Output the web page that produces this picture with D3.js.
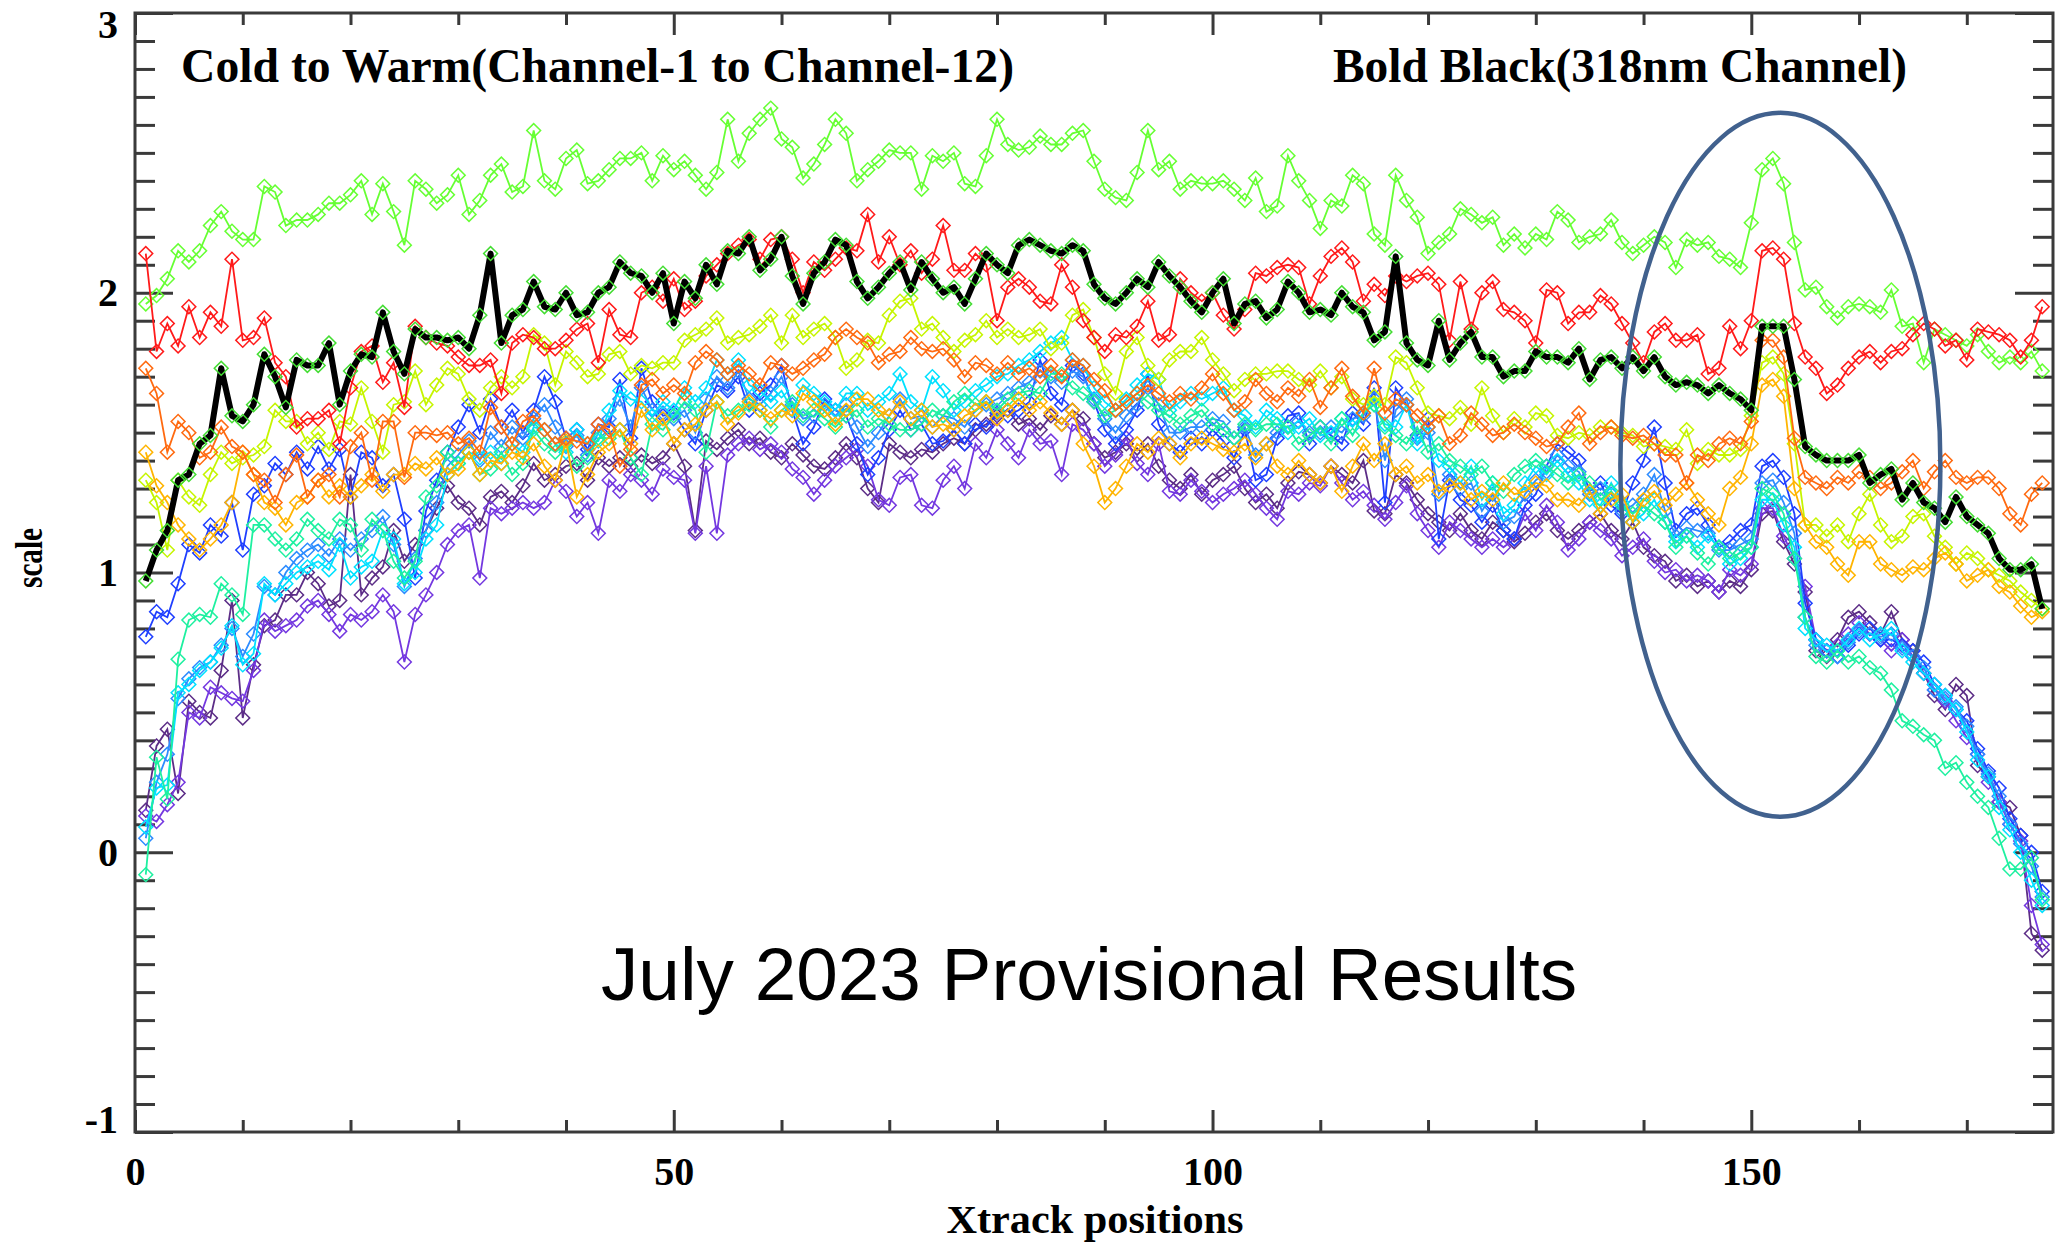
<!DOCTYPE html>
<meta charset="utf-8">
<style>
  body { margin: 0; background: #fff; }
  .tick line { stroke: #3a3a3a; stroke-width: 3; }
  .tick text { font-family: "Liberation Serif", "Times New Roman", serif; font-weight: bold; font-size: 40px; fill: #000; }
  .frame { fill: none; stroke: #3a3a3a; stroke-width: 3; }
  .series { fill: none; stroke-width: 1.8; }
  .marker { fill: none; stroke-width: 1.5; }
  .bold318 { fill: none; stroke: #000; stroke-width: 6; stroke-linejoin: round; }
  .lab { font-family: "Liberation Serif", "Times New Roman", serif; font-weight: bold; fill: #000; }
  .note { font-family: "Liberation Sans", Arial, sans-serif; fill: #000; }
</style>

<svg width="2057" height="1242"></svg>
<script src="https://d3js.org/d3.v7.min.js"></script>

<script>
// Xtrack positions 1..177
var xtrack = d3.range(1, 178);

// Channel values (scale), cold (ch1) to warm (ch12)
var ch1 = [0.15,0.38,0.44,0.21,0.54,0.50,0.48,0.65,0.90,0.48,0.67,0.81,0.83,0.92,0.92,1.00,0.96,0.88,0.90,1.35,0.92,0.98,1.02,1.15,1.04,1.10,1.15,1.23,1.31,1.25,1.23,1.17,1.27,1.29,1.25,1.31,
  1.39,1.33,1.35,1.38,1.39,1.33,1.41,1.38,1.41,1.38,1.42,1.39,1.41,1.46,1.38,1.15,1.47,1.44,1.48,1.51,1.46,1.48,1.43,1.41,1.46,1.42,1.38,1.37,1.41,1.46,1.41,1.30,1.25,1.46,1.43,
  1.41,1.44,1.43,1.46,1.48,1.46,1.51,1.53,1.56,1.58,1.53,1.55,1.51,1.56,1.53,1.58,1.55,1.46,1.41,1.43,1.46,1.42,1.46,1.38,1.33,1.30,1.35,1.28,1.33,1.35,1.38,1.30,1.25,1.28,1.23,
  1.32,1.36,1.35,1.32,1.38,1.35,1.32,1.40,1.22,1.21,1.35,1.32,1.26,1.21,1.18,1.15,1.21,1.15,1.12,1.18,1.15,1.11,1.14,1.18,1.21,1.15,1.12,1.15,1.18,1.21,1.15,1.12,1.18,1.09,1.06,1.04,
  0.97,0.99,0.95,0.97,0.93,0.97,0.95,1.01,1.21,1.22,1.11,1.03,0.93,0.72,0.70,0.76,0.84,0.86,0.82,0.78,0.86,0.76,0.72,0.64,0.56,0.51,0.60,0.56,0.31,0.27,0.18,0.16,0.06,-0.29,-0.35];
var ch2 = [0.13,0.11,0.17,0.25,0.50,0.48,0.59,0.57,0.55,0.54,0.65,0.83,0.79,0.81,0.83,0.88,0.90,0.85,0.79,0.85,0.83,0.86,0.92,0.86,0.68,0.85,0.92,1.00,1.10,1.15,1.17,0.98,1.23,1.21,1.23,1.25,
  1.23,1.25,1.33,1.29,1.20,1.25,1.14,1.33,1.29,1.35,1.33,1.28,1.37,1.34,1.33,1.14,1.38,1.14,1.42,1.46,1.48,1.44,1.46,1.43,1.37,1.34,1.28,1.33,1.38,1.41,1.44,1.38,1.26,1.24,1.34,
  1.35,1.24,1.23,1.33,1.38,1.30,1.46,1.41,1.51,1.46,1.41,1.51,1.46,1.47,1.35,1.53,1.51,1.46,1.38,1.42,1.48,1.39,1.35,1.46,1.29,1.28,1.33,1.29,1.25,1.28,1.30,1.33,1.28,1.23,1.19,
  1.29,1.28,1.32,1.31,1.38,1.32,1.26,1.29,1.24,1.19,1.25,1.31,1.21,1.15,1.09,1.18,1.15,1.12,1.09,1.12,1.09,1.12,1.21,1.15,1.24,1.18,1.08,1.12,1.18,1.15,1.12,1.06,1.09,1.12,1.04,1.00,
  1.01,0.97,0.99,0.97,0.93,1.01,0.99,1.03,1.23,1.23,1.13,1.05,0.95,0.76,0.72,0.74,0.78,0.82,0.78,0.76,0.72,0.76,0.70,0.64,0.58,0.54,0.47,0.41,0.35,0.25,0.18,0.10,0.04,-0.19,-0.33];
var ch3 = [0.77,0.86,0.84,0.96,1.10,1.07,1.17,1.13,1.25,1.08,1.28,1.31,1.39,1.35,1.43,1.37,1.45,1.37,1.44,1.27,1.43,1.41,1.31,1.35,1.19,0.98,1.22,1.33,1.43,1.52,1.60,1.50,1.62,1.52,1.58,1.50,
  1.58,1.70,1.61,1.48,1.51,1.44,1.53,1.52,1.69,1.48,1.73,1.61,1.56,1.57,1.51,1.46,1.58,1.67,1.65,1.70,1.58,1.64,1.67,1.74,1.58,1.46,1.52,1.62,1.58,1.56,1.46,1.35,1.41,1.51,1.58,
  1.51,1.53,1.46,1.47,1.51,1.46,1.53,1.52,1.57,1.56,1.58,1.61,1.76,1.64,1.60,1.74,1.71,1.61,1.51,1.46,1.51,1.58,1.71,1.53,1.46,1.43,1.48,1.46,1.51,1.47,1.41,1.51,1.33,1.35,1.48,
  1.56,1.57,1.46,1.52,1.49,1.46,1.57,1.53,1.66,1.25,1.66,1.60,1.49,1.55,1.12,1.33,1.26,1.24,1.18,1.24,1.15,1.12,1.24,1.28,1.38,1.46,1.43,1.40,1.29,1.32,1.24,1.21,1.32,1.40,1.52,1.32,
  1.15,1.21,1.23,1.17,1.09,1.11,1.15,1.17,1.38,1.40,1.34,1.21,0.89,0.76,0.72,0.70,0.74,0.78,0.80,0.76,0.76,0.74,0.72,0.68,0.60,0.56,0.51,0.47,0.37,0.29,0.23,0.12,0.06,0.00,-0.14];
var ch4 = [0.05,0.25,0.35,0.55,0.62,0.66,0.68,0.74,0.80,0.70,0.78,0.95,0.92,1.00,1.05,1.08,1.10,1.06,1.12,1.08,1.12,1.15,1.20,1.10,0.95,1.05,1.15,1.25,1.38,1.42,1.47,1.40,1.50,1.45,1.52,1.48,
  1.55,1.60,1.52,1.45,1.49,1.42,1.50,1.55,1.62,1.52,1.66,1.58,1.57,1.55,1.58,1.50,1.62,1.70,1.66,1.72,1.62,1.60,1.64,1.70,1.60,1.55,1.56,1.60,1.56,1.60,1.52,1.45,1.50,1.56,1.62,
  1.55,1.56,1.52,1.56,1.55,1.52,1.58,1.60,1.62,1.64,1.66,1.68,1.72,1.70,1.68,1.72,1.70,1.62,1.55,1.50,1.56,1.60,1.66,1.60,1.50,1.50,1.52,1.52,1.55,1.54,1.48,1.52,1.42,1.46,1.50,
  1.52,1.54,1.50,1.50,1.52,1.50,1.55,1.56,1.62,1.40,1.58,1.62,1.48,1.50,1.28,1.35,1.30,1.32,1.22,1.28,1.18,1.20,1.28,1.33,1.36,1.42,1.38,1.36,1.28,1.30,1.28,1.22,1.24,1.28,1.35,1.22,
  1.13,1.16,1.15,1.14,1.08,1.08,1.10,1.12,1.32,1.33,1.25,1.14,0.84,0.74,0.72,0.70,0.75,0.79,0.78,0.77,0.78,0.73,0.70,0.66,0.58,0.55,0.52,0.45,0.35,0.28,0.20,0.10,0.03,-0.05,-0.16];
var ch5 = [0.09,0.23,0.24,0.57,0.60,0.65,0.68,0.73,0.81,0.67,0.71,0.96,0.92,0.96,1.00,1.02,1.04,1.01,1.10,0.98,1.02,1.04,1.15,1.12,0.96,1.00,1.12,1.17,1.35,1.39,1.43,1.41,1.43,1.39,1.46,1.43,
  1.52,1.51,1.46,1.43,1.51,1.46,1.47,1.58,1.65,1.62,1.61,1.56,1.61,1.58,1.66,1.61,1.66,1.76,1.71,1.76,1.67,1.65,1.61,1.65,1.58,1.67,1.64,1.61,1.58,1.64,1.64,1.58,1.61,1.64,1.71,
  1.61,1.58,1.70,1.65,1.58,1.61,1.65,1.67,1.70,1.71,1.74,1.76,1.79,1.82,1.84,1.76,1.74,1.66,1.61,1.58,1.62,1.67,1.71,1.69,1.58,1.61,1.64,1.62,1.64,1.66,1.58,1.56,1.52,1.58,1.55,
  1.50,1.52,1.55,1.49,1.50,1.55,1.52,1.57,1.60,1.53,1.52,1.60,1.46,1.52,1.40,1.38,1.32,1.38,1.26,1.32,1.21,1.24,1.32,1.38,1.35,1.40,1.35,1.32,1.26,1.24,1.32,1.25,1.18,1.21,1.26,1.18,
  1.11,1.13,1.09,1.13,1.09,1.03,1.05,1.09,1.26,1.26,1.17,1.09,0.80,0.76,0.74,0.72,0.76,0.80,0.76,0.78,0.80,0.72,0.68,0.64,0.60,0.56,0.51,0.43,0.33,0.27,0.16,0.08,0.00,-0.10,-0.19];
var ch6 = [-0.08,0.34,0.19,0.69,0.83,0.85,0.84,0.96,0.92,0.85,1.17,1.17,1.12,1.08,1.12,1.19,1.15,1.12,1.19,1.17,1.08,1.19,1.15,1.04,0.98,1.04,1.27,1.31,1.43,1.39,1.43,1.35,1.37,1.43,1.35,1.39,
  1.51,1.46,1.43,1.46,1.38,1.41,1.48,1.48,1.51,1.41,1.35,1.53,1.51,1.56,1.61,1.58,1.43,1.61,1.56,1.58,1.60,1.58,1.52,1.58,1.61,1.56,1.58,1.55,1.52,1.56,1.58,1.52,1.55,1.53,1.51,
  1.51,1.53,1.58,1.56,1.61,1.64,1.60,1.61,1.58,1.62,1.64,1.65,1.64,1.71,1.71,1.66,1.64,1.61,1.56,1.58,1.61,1.64,1.61,1.58,1.56,1.53,1.56,1.58,1.53,1.51,1.48,1.53,1.51,1.53,1.53,
  1.52,1.46,1.49,1.52,1.46,1.55,1.49,1.57,1.60,1.52,1.49,1.46,1.52,1.43,1.46,1.40,1.38,1.35,1.38,1.32,1.29,1.35,1.38,1.40,1.38,1.35,1.32,1.35,1.32,1.26,1.29,1.24,1.21,1.24,1.21,1.18,
  1.09,1.13,1.07,1.03,1.09,1.05,1.07,1.09,1.30,1.28,1.21,1.05,0.84,0.70,0.68,0.72,0.68,0.70,0.66,0.64,0.58,0.47,0.45,0.42,0.40,0.30,0.32,0.25,0.20,0.16,0.05,-0.06,-0.06,-0.02,-0.17];
// ch7 is the 318nm channel, drawn bold black
var ch7 = [0.97,1.08,1.15,1.33,1.35,1.46,1.49,1.73,1.56,1.54,1.60,1.78,1.70,1.59,1.76,1.74,1.74,1.82,1.60,1.72,1.78,1.77,1.93,1.79,1.71,1.87,1.84,1.84,1.83,1.84,1.80,1.92,2.14,1.82,1.92,1.94,
  2.04,1.95,1.94,2.00,1.92,1.93,2.00,2.02,2.11,2.07,2.06,2.00,2.07,1.89,2.04,1.98,2.10,2.03,2.15,2.14,2.20,2.08,2.12,2.20,2.06,1.96,2.07,2.11,2.19,2.17,2.04,1.98,2.02,2.07,2.11,
  2.01,2.11,2.05,2.00,2.02,1.96,2.05,2.14,2.10,2.07,2.17,2.19,2.17,2.15,2.14,2.17,2.15,2.03,1.98,1.96,2.00,2.05,2.02,2.11,2.06,2.02,1.97,1.93,2.00,2.05,1.89,1.96,1.97,1.91,1.94,
  2.04,2.00,1.93,1.94,1.92,2.00,1.95,1.93,1.83,1.86,2.13,1.82,1.76,1.74,1.90,1.76,1.82,1.86,1.77,1.77,1.70,1.72,1.72,1.79,1.77,1.77,1.75,1.80,1.69,1.76,1.77,1.73,1.77,1.72,1.77,1.70,
  1.67,1.68,1.67,1.64,1.67,1.64,1.62,1.58,1.88,1.88,1.88,1.69,1.45,1.42,1.40,1.40,1.40,1.42,1.32,1.35,1.37,1.26,1.32,1.25,1.23,1.18,1.27,1.20,1.17,1.14,1.05,1.01,1.01,1.03,0.87];
var ch8 = [1.96,1.99,2.05,2.15,2.11,2.15,2.24,2.29,2.22,2.19,2.19,2.38,2.36,2.24,2.26,2.26,2.28,2.32,2.32,2.35,2.40,2.28,2.39,2.29,2.17,2.40,2.37,2.32,2.35,2.42,2.28,2.33,2.42,2.46,2.36,2.38,
  2.58,2.40,2.37,2.48,2.51,2.39,2.40,2.44,2.48,2.48,2.50,2.40,2.49,2.44,2.47,2.42,2.37,2.43,2.62,2.47,2.57,2.62,2.66,2.55,2.52,2.41,2.46,2.53,2.62,2.57,2.40,2.44,2.47,2.51,2.50,
  2.50,2.37,2.49,2.47,2.50,2.39,2.38,2.49,2.62,2.53,2.51,2.52,2.56,2.53,2.53,2.57,2.58,2.47,2.37,2.34,2.33,2.43,2.58,2.44,2.47,2.37,2.40,2.39,2.39,2.40,2.37,2.33,2.41,2.29,2.31,
  2.49,2.40,2.33,2.23,2.33,2.31,2.42,2.39,2.21,2.17,2.42,2.33,2.27,2.14,2.18,2.21,2.30,2.28,2.25,2.27,2.17,2.21,2.16,2.21,2.19,2.29,2.26,2.18,2.20,2.21,2.26,2.18,2.14,2.17,2.20,2.18,
  2.09,2.19,2.17,2.18,2.13,2.12,2.09,2.25,2.44,2.48,2.39,2.18,2.01,2.02,1.95,1.91,1.95,1.96,1.95,1.93,2.01,1.88,1.89,1.75,1.87,1.85,1.83,1.81,1.85,1.79,1.75,1.77,1.75,1.79,1.72];
var ch9 = [1.33,1.25,1.08,1.33,1.27,1.24,1.35,1.43,1.39,1.41,1.42,1.45,1.58,1.54,1.54,1.46,1.50,1.44,1.54,1.53,1.66,1.54,1.43,1.60,1.61,1.72,1.60,1.67,1.73,1.71,1.62,1.58,1.66,1.70,1.66,1.70,
  1.85,1.82,1.67,1.79,1.75,1.70,1.71,1.78,1.79,1.71,1.74,1.73,1.75,1.75,1.83,1.85,1.87,1.91,1.82,1.84,1.85,1.88,1.92,1.82,1.92,1.84,1.87,1.89,1.84,1.73,1.76,1.83,1.82,1.92,1.97,
  1.98,1.87,1.89,1.84,1.79,1.83,1.85,1.90,1.84,1.87,1.84,1.85,1.87,1.80,1.82,1.92,1.94,1.84,1.71,1.64,1.79,1.84,1.74,1.69,1.76,1.79,1.79,1.84,1.76,1.71,1.65,1.69,1.71,1.71,1.72,
  1.72,1.69,1.67,1.72,1.66,1.70,1.62,1.60,1.63,1.60,1.77,1.75,1.66,1.57,1.56,1.55,1.59,1.53,1.66,1.56,1.50,1.55,1.52,1.57,1.56,1.49,1.48,1.50,1.49,1.52,1.52,1.50,1.49,1.45,1.46,1.45,
  1.44,1.51,1.39,1.44,1.42,1.42,1.44,1.56,1.75,1.77,1.71,1.46,1.17,1.17,1.13,1.17,1.11,1.21,1.28,1.17,1.11,1.13,1.20,1.21,1.13,1.09,1.03,1.07,1.05,1.01,0.99,0.97,0.93,0.90,0.87];
var ch10 = [1.43,1.31,1.25,1.17,1.12,1.08,1.12,1.17,1.25,1.43,1.35,1.25,1.23,1.17,1.25,1.27,1.33,1.27,1.31,1.27,1.31,1.35,1.29,1.35,1.35,1.39,1.37,1.41,1.35,1.37,1.43,1.35,1.40,1.39,1.43,1.41,
  1.46,1.38,1.33,1.47,1.27,1.35,1.43,1.46,1.51,1.46,1.58,1.51,1.55,1.46,1.51,1.53,1.58,1.61,1.53,1.57,1.61,1.58,1.55,1.58,1.56,1.64,1.61,1.58,1.53,1.58,1.62,1.62,1.58,1.56,1.61,
  1.55,1.58,1.52,1.53,1.51,1.56,1.58,1.61,1.55,1.58,1.62,1.58,1.61,1.57,1.53,1.58,1.46,1.38,1.25,1.30,1.38,1.46,1.43,1.48,1.46,1.41,1.46,1.48,1.46,1.44,1.43,1.46,1.41,1.46,1.38,
  1.35,1.40,1.35,1.32,1.38,1.29,1.38,1.46,1.40,1.46,1.35,1.38,1.32,1.35,1.29,1.31,1.32,1.26,1.29,1.26,1.32,1.28,1.29,1.32,1.31,1.26,1.26,1.24,1.29,1.21,1.26,1.28,1.18,1.26,1.29,1.24,
  1.28,1.32,1.26,1.21,1.17,1.30,1.34,1.46,1.67,1.69,1.63,1.30,1.17,1.11,1.09,1.03,0.99,1.11,1.11,1.03,1.01,0.99,1.02,1.01,1.05,1.07,1.03,0.97,0.99,1.01,0.95,0.93,0.88,0.84,0.86];
var ch11 = [1.73,1.64,1.43,1.54,1.50,1.41,1.43,1.52,1.45,1.43,1.35,1.33,1.25,1.35,1.42,1.27,1.33,1.35,1.27,1.45,1.50,1.33,1.54,1.54,1.34,1.50,1.50,1.49,1.50,1.46,1.48,1.43,1.59,1.52,1.46,1.54,
  1.56,1.51,1.46,1.48,1.47,1.46,1.53,1.51,1.38,1.44,1.67,1.69,1.64,1.67,1.64,1.75,1.79,1.76,1.71,1.74,1.71,1.67,1.75,1.74,1.71,1.73,1.76,1.78,1.84,1.87,1.84,1.82,1.75,1.78,1.79,
  1.84,1.80,1.79,1.80,1.76,1.70,1.75,1.74,1.71,1.75,1.71,1.73,1.70,1.74,1.70,1.76,1.74,1.69,1.65,1.58,1.61,1.64,1.67,1.64,1.61,1.64,1.62,1.66,1.71,1.64,1.58,1.61,1.69,1.64,1.61,
  1.66,1.63,1.69,1.59,1.66,1.73,1.63,1.57,1.73,1.57,1.62,1.60,1.56,1.52,1.56,1.46,1.49,1.57,1.53,1.49,1.50,1.53,1.50,1.48,1.45,1.46,1.52,1.57,1.46,1.50,1.52,1.49,1.48,1.49,1.46,1.42,
  1.42,1.32,1.42,1.40,1.46,1.48,1.46,1.54,1.83,1.83,1.77,1.48,1.34,1.32,1.30,1.34,1.32,1.36,1.34,1.30,1.32,1.36,1.40,1.30,1.36,1.40,1.34,1.32,1.34,1.34,1.30,1.21,1.17,1.28,1.32];
var ch12 = [2.14,1.79,1.89,1.81,1.95,1.84,1.93,1.88,2.12,1.83,1.84,1.91,1.75,1.70,1.52,1.55,1.55,1.58,1.46,1.66,1.79,1.81,1.68,1.75,1.59,1.88,1.84,1.82,1.81,1.77,1.74,1.74,1.76,1.64,1.82,1.85,
  1.84,1.80,1.80,1.83,1.87,1.89,1.75,1.94,1.85,1.84,2.00,2.02,1.97,2.05,1.94,1.97,2.06,2.10,2.14,2.17,2.19,2.12,2.19,2.20,2.12,2.00,2.11,2.08,2.12,2.16,2.15,2.28,2.11,2.20,2.10,
  2.15,2.07,2.12,2.24,2.08,2.08,2.14,2.10,1.90,2.02,2.05,2.02,1.97,1.96,2.10,2.02,1.90,1.84,1.79,1.85,1.84,1.88,1.97,1.83,1.85,2.05,2.00,1.97,2.00,1.92,1.87,1.94,2.07,2.06,2.09,
  2.10,2.09,1.96,2.06,2.13,2.16,2.11,1.97,2.03,1.99,2.06,2.04,2.06,2.07,2.03,1.83,2.04,1.87,2.00,2.04,1.94,1.93,1.90,1.82,2.01,2.00,1.89,1.93,1.93,1.99,1.96,1.89,1.82,1.75,1.86,1.89,
  1.83,1.83,1.85,1.71,1.73,1.88,1.80,1.90,2.15,2.16,2.12,1.89,1.77,1.73,1.64,1.67,1.73,1.77,1.79,1.75,1.79,1.80,1.85,1.89,1.87,1.81,1.83,1.76,1.87,1.86,1.85,1.83,1.77,1.83,1.95];

var channels = [ch1, ch2, ch3, ch4, ch5, ch6, ch7, ch8, ch9, ch10, ch11, ch12];
var channelColors = ["#5c2d87", "#7438e0", "#1f3fff", "#2d8cff", "#00e1ff", "#1ef0a0",
                     "#44dd33", "#66ff33", "#c6f500", "#ffb400", "#ff6a10", "#ff1a1a"];
var boldIndex = 6;  // 318nm channel

// Axis ticks
var xMajor = [0, 50, 100, 150];
var xMinor = [10, 20, 30, 40, 60, 70, 80, 90, 110, 120, 130, 140, 160, 170];
var yMajor = [-1, 0, 1, 2, 3];
var yMinor = d3.range(-10, 31).filter(function(i) { return i % 10 !== 0; }).map(function(i) { return i / 10; });

// The svg
var svg = d3.select("svg"),
    width = +svg.attr("width"),
    height = +svg.attr("height");

var x = d3.scaleLinear().domain([0, 178]).range([135, 2053]);
var y = d3.scaleLinear().domain([-1, 3]).range([1132, 13]);

// Ticks (drawn inward on all four sides)
function noLabel() { return ""; }
function strip(g) { g.select(".domain").remove(); }

svg.append("g").attr("transform", "translate(0,1132)")
    .call(d3.axisBottom(x).tickValues(xMinor).tickSize(-12).tickFormat(noLabel)).call(strip);
svg.append("g").attr("transform", "translate(0,1132)")
    .call(d3.axisBottom(x).tickValues(xMajor).tickSize(-22).tickPadding(25)
        .tickFormat(function(d) { return String(d); })).call(strip);
svg.append("g").attr("transform", "translate(0,13)")
    .call(d3.axisTop(x).tickValues(xMinor).tickSize(-12).tickFormat(noLabel)).call(strip);
svg.append("g").attr("transform", "translate(0,13)")
    .call(d3.axisTop(x).tickValues(xMajor).tickSize(-22).tickFormat(noLabel)).call(strip);

svg.append("g").attr("transform", "translate(135,0)")
    .call(d3.axisLeft(y).tickValues(yMinor).tickSize(-20).tickFormat(noLabel)).call(strip);
var yAxis = svg.append("g").attr("transform", "translate(135,0)")
    .call(d3.axisLeft(y).tickValues(yMajor).tickSize(-38).tickPadding(17)
        .tickFormat(function(d) { return String(d); })).call(strip);
svg.append("g").attr("transform", "translate(2053,0)")
    .call(d3.axisRight(y).tickValues(yMinor).tickSize(-20).tickFormat(noLabel)).call(strip);
svg.append("g").attr("transform", "translate(2053,0)")
    .call(d3.axisRight(y).tickValues(yMajor).tickSize(-38).tickFormat(noLabel)).call(strip);

// end labels sit just inside the frame
yAxis.selectAll(".tick text")
    .attr("dy", function(d) { return d === 3 ? "0.62em" : d === -1 ? "0.02em" : "0.32em"; });

// Frame
svg.append("rect").attr("class", "frame")
    .attr("x", 135).attr("y", 13).attr("width", 2053 - 135).attr("height", 1132 - 13);

// Series
var line = d3.line()
    .x(function(d, i) { return x(xtrack[i]); })
    .y(function(d) { return y(d); });
var diamond = d3.symbol().type(d3.symbolSquare).size(96);

function drawMarkers(values, color) {
  svg.append("g").selectAll("path")
    .data(values)
    .enter().append("path")
    .attr("class", "marker")
    .attr("stroke", color)
    .attr("d", diamond)
    .attr("transform", function(d, i) { return "translate(" + x(xtrack[i]) + "," + y(d) + ") rotate(45)"; });
}

channels.forEach(function(values, k) {
  if (k === boldIndex) return;
  svg.append("path").attr("class", "series")
    .attr("stroke", channelColors[k])
    .attr("d", line(values));
  drawMarkers(values, channelColors[k]);
});

svg.append("path").attr("class", "bold318").attr("d", line(ch7));
drawMarkers(ch7, channelColors[boldIndex]);

// Captions
svg.append("text").attr("class", "lab")
    .attr("x", 181).attr("y", 82).attr("font-size", 48)
    .attr("textLength", 833).attr("lengthAdjust", "spacingAndGlyphs")
    .text("Cold to Warm(Channel-1 to Channel-12)");
svg.append("text").attr("class", "lab")
    .attr("x", 1333).attr("y", 82).attr("font-size", 48)
    .attr("textLength", 574).attr("lengthAdjust", "spacingAndGlyphs")
    .text("Bold Black(318nm Channel)");

svg.append("text").attr("class", "lab")
    .attr("x", 1095).attr("y", 1233).attr("font-size", 40)
    .attr("text-anchor", "middle")
    .attr("textLength", 297).attr("lengthAdjust", "spacingAndGlyphs")
    .text("Xtrack positions");
svg.append("text").attr("class", "lab")
    .attr("transform", "translate(42,558) rotate(-90)")
    .attr("font-size", 38)
    .attr("text-anchor", "middle")
    .attr("textLength", 60).attr("lengthAdjust", "spacingAndGlyphs")
    .text("scale");

svg.append("text").attr("class", "note")
    .attr("x", 601).attr("y", 1000).attr("font-size", 74)
    .attr("textLength", 976).attr("lengthAdjust", "spacingAndGlyphs")
    .text("July 2023 Provisional Results");

// Highlight around the spike near xtrack 152
svg.append("ellipse")
    .attr("cx", x(152.7)).attr("cy", y(1.385))
    .attr("rx", x(167.55) - x(152.7)).attr("ry", y(0.127) - y(1.385))
    .attr("fill", "none").attr("stroke", "#41618e").attr("stroke-width", 4.5);
</script>
